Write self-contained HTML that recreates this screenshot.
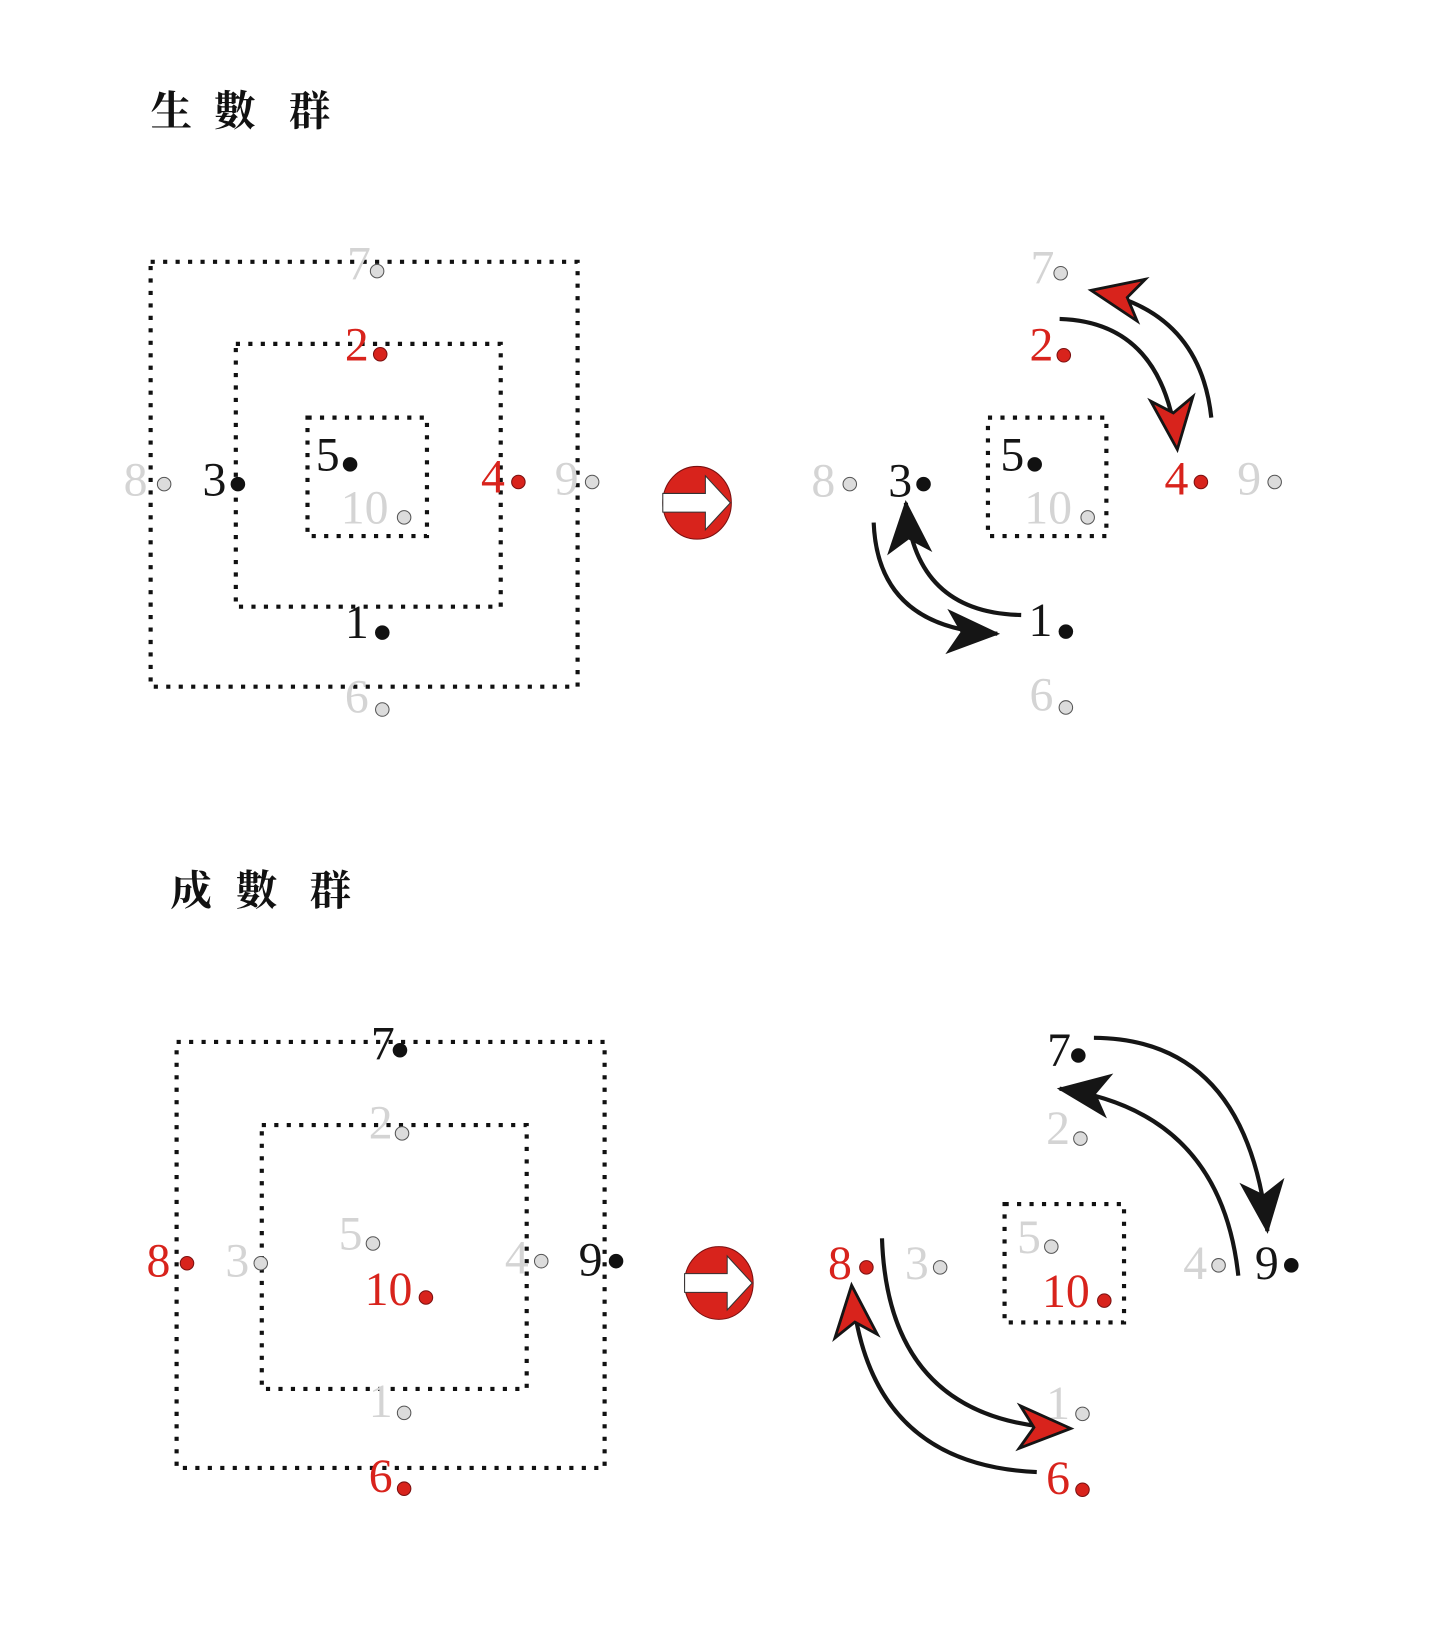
<!DOCTYPE html>
<html><head><meta charset="utf-8"><style>
html,body{margin:0;padding:0;background:#fff}
svg{display:block}
.d{font-family:"Liberation Serif",serif;font-size:46px}
.g{fill:#d4d4d4}.r{fill:#d8231c}.k{fill:#151515}
.t{font-family:"Noto Serif CJK SC","Noto Sans CJK TC",serif;font-size:40px;font-weight:bold;fill:#111}
.box{fill:none;stroke:#111;stroke-width:4;stroke-dasharray:4 8}
.dg{fill:#dcdcdc;stroke:#555;stroke-width:1}
.dk{fill:#111}
.dr{fill:#d8231c;stroke:#7a1010;stroke-width:1}
.arc{fill:none;stroke:#151515;stroke-width:4}
</style></head><body>
<svg width="1444" height="1631" viewBox="0 0 1390 1570" preserveAspectRatio="none" xmlns="http://www.w3.org/2000/svg">
<defs>
<marker id="mk" markerUnits="userSpaceOnUse" markerWidth="60" markerHeight="60" refX="0" refY="0" viewBox="-40 -20 44 40" orient="auto" overflow="visible">
<path d="M2,0 L-36,-16 L-26,0 L-36,16 Z" fill="#151515"/>
</marker>
<marker id="mr" markerUnits="userSpaceOnUse" markerWidth="60" markerHeight="60" refX="0" refY="0" viewBox="-40 -20 44 40" orient="auto" overflow="visible">
<path d="M2,0 L-34,-15 L-24,0 L-34,15 Z" fill="#d8231c" stroke="#151515" stroke-width="2"/>
</marker>
</defs>

<text class="t" x="145" y="121">生</text><text class="t" x="206" y="121">數</text><text class="t" x="278" y="121">群</text>
<text class="t" x="164" y="871">成</text><text class="t" x="227" y="871">數</text><text class="t" x="298" y="871">群</text>

<!-- diagram 1 left -->
<rect class="box" x="145" y="252" width="411" height="409"/>
<rect class="box" x="227" y="331" width="255" height="253"/>
<rect class="box" x="296" y="402" width="115" height="114"/>
<text class="d g" x="334" y="269">7</text><circle class="dg" cx="363" cy="261" r="6.5"/>
<text class="d r" x="332" y="347">2</text><circle class="dr" cx="366" cy="341" r="6.5"/>
<text class="d k" x="304" y="453">5</text><circle class="dk" cx="337" cy="447" r="7"/>
<text class="d g" x="328" y="504">10</text><circle class="dg" cx="389" cy="498" r="6.5"/>
<text class="d k" x="195" y="477">3</text><circle class="dk" cx="229" cy="466" r="7"/>
<text class="d r" x="463" y="474">4</text><circle class="dr" cx="499" cy="464" r="6.5"/>
<text class="d g" x="534" y="476">9</text><circle class="dg" cx="570" cy="464" r="6.5"/>
<text class="d g" x="119" y="477">8</text><circle class="dg" cx="158" cy="466" r="6.5"/>
<text class="d k" x="332" y="614">1</text><circle class="dk" cx="368" cy="609" r="7"/>
<text class="d g" x="332" y="686">6</text><circle class="dg" cx="368" cy="683" r="6.5"/>

<g transform="translate(671,484)">
<ellipse rx="33" ry="35" fill="#d8231c" stroke="#7a1010" stroke-width="1"/>
<path d="M-33,-9 L8,-9 L8,-26 L32,0 L8,26 L8,9 L-33,9 Z" fill="#fff" stroke="#333" stroke-width="1"/>
</g>

<!-- diagram 1 right -->
<rect class="box" x="951" y="402" width="114" height="114"/>
<text class="d g" x="992" y="273">7</text><circle class="dg" cx="1021" cy="263" r="6.5"/>
<text class="d r" x="991" y="347">2</text><circle class="dr" cx="1024" cy="342" r="6.5"/>
<text class="d k" x="963" y="453">5</text><circle class="dk" cx="996" cy="447" r="7"/>
<text class="d g" x="986" y="504">10</text><circle class="dg" cx="1047" cy="498" r="6.5"/>
<text class="d g" x="781" y="478">8</text><circle class="dg" cx="818" cy="466" r="6.5"/>
<text class="d k" x="855" y="478">3</text><circle class="dk" cx="889" cy="466" r="7"/>
<text class="d r" x="1121" y="476">4</text><circle class="dr" cx="1156" cy="464" r="6.5"/>
<text class="d g" x="1191" y="476">9</text><circle class="dg" cx="1227" cy="464" r="6.5"/>
<text class="d k" x="990" y="612">1</text><circle class="dk" cx="1026" cy="608" r="7"/>
<text class="d g" x="991" y="684">6</text><circle class="dg" cx="1026" cy="681" r="6.5"/>

<path class="arc" d="M1020,307 Q1120,310 1133,430" marker-end="url(#mr)"/>
<path class="arc" d="M1166,402 Q1155,300 1053,280" marker-end="url(#mr)"/>
<path class="arc" d="M983,592 Q880,590 872,484" marker-end="url(#mk)"/>
<path class="arc" d="M841,503 Q845,605 960,610" marker-end="url(#mk)"/>

<!-- diagram 2 left -->
<rect class="box" x="170" y="1003" width="412" height="410"/>
<rect class="box" x="252" y="1083" width="255" height="254"/>
<text class="d k" x="357" y="1020">7</text><circle class="dk" cx="385" cy="1011" r="7"/>
<text class="d g" x="355" y="1096">2</text><circle class="dg" cx="387" cy="1091" r="6.5"/>
<text class="d g" x="326" y="1203">5</text><circle class="dg" cx="359" cy="1197" r="6.5"/>
<text class="d r" x="351" y="1256">10</text><circle class="dr" cx="410" cy="1249" r="6.5"/>
<text class="d r" x="141" y="1229">8</text><circle class="dr" cx="180" cy="1216" r="6.5"/>
<text class="d g" x="217" y="1229">3</text><circle class="dg" cx="251" cy="1216" r="6.5"/>
<text class="d g" x="486" y="1226">4</text><circle class="dg" cx="521" cy="1214" r="6.5"/>
<text class="d k" x="557" y="1228">9</text><circle class="dk" cx="593" cy="1214" r="7"/>
<text class="d g" x="355" y="1364">1</text><circle class="dg" cx="389" cy="1360" r="6.5"/>
<text class="d r" x="355" y="1436">6</text><circle class="dr" cx="389" cy="1433" r="6.5"/>

<g transform="translate(692,1235)">
<ellipse rx="33" ry="35" fill="#d8231c" stroke="#7a1010" stroke-width="1"/>
<path d="M-33,-9 L8,-9 L8,-26 L32,0 L8,26 L8,9 L-33,9 Z" fill="#fff" stroke="#333" stroke-width="1"/>
</g>

<!-- diagram 2 right -->
<rect class="box" x="967" y="1159" width="115" height="114"/>
<text class="d k" x="1008" y="1026">7</text><circle class="dk" cx="1038" cy="1016" r="7"/>
<text class="d g" x="1007" y="1101">2</text><circle class="dg" cx="1040" cy="1096" r="6.5"/>
<text class="d g" x="979" y="1206">5</text><circle class="dg" cx="1012" cy="1200" r="6.5"/>
<text class="d r" x="1003" y="1258">10</text><circle class="dr" cx="1063" cy="1252" r="6.5"/>
<text class="d r" x="797" y="1231">8</text><circle class="dr" cx="834" cy="1220" r="6.5"/>
<text class="d g" x="871" y="1231">3</text><circle class="dg" cx="905" cy="1220" r="6.5"/>
<text class="d g" x="1139" y="1231">4</text><circle class="dg" cx="1173" cy="1218" r="6.5"/>
<text class="d k" x="1208" y="1231">9</text><circle class="dk" cx="1243" cy="1218" r="7"/>
<text class="d g" x="1007" y="1366">1</text><circle class="dg" cx="1042" cy="1361" r="6.5"/>
<text class="d r" x="1007" y="1438">6</text><circle class="dr" cx="1042" cy="1434" r="6.5"/>

<path class="arc" d="M1053,999 Q1200,1000 1220,1185" marker-end="url(#mk)"/>
<path class="arc" d="M1192,1228 Q1175,1070 1020,1048" marker-end="url(#mk)"/>
<path class="arc" d="M849,1192 Q855,1370 1028,1375" marker-end="url(#mr)"/>
<path class="arc" d="M998,1417 Q835,1410 820,1240" marker-end="url(#mr)"/>
</svg>
</body></html>
